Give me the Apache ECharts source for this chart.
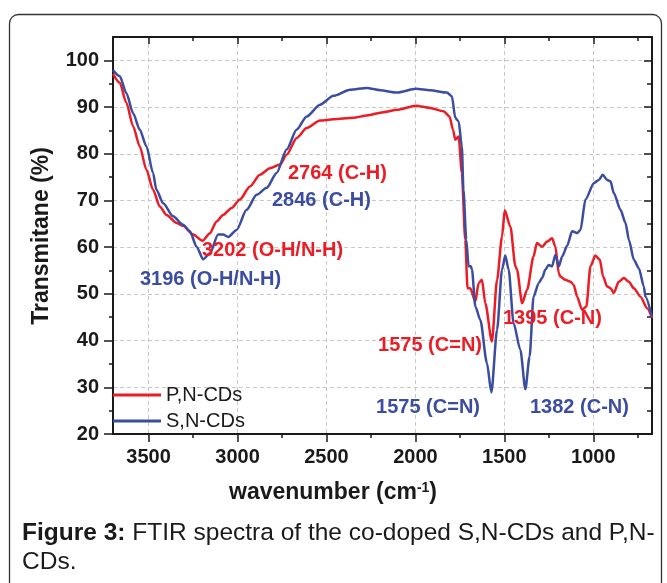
<!DOCTYPE html>
<html><head><meta charset="utf-8">
<script src="https://cdn.jsdelivr.net/npm/echarts@6/dist/echarts.min.js"></script>
<style>html,body{margin:0;padding:0;background:#fff}#c{width:667px;height:583px}</style>
</head><body><div id="c"></div>
<script>
// ---------- data ----------
const seriesNames = ['P,N-CDs', 'S,N-CDs'];
const xTicks = [3500, 3000, 2500, 2000, 1500, 1000];
const xMinorTicks = [3250, 2750, 2250, 1750, 1250, 750];
const yTicks = [20, 30, 40, 50, 60, 70, 80, 90, 100];
const yMinorTicks = [25, 35, 45, 55, 65, 75, 85, 95];

// P,N-CDs (red)
const wnPN = [3700,3662,3625,3587,3550,3512,3475,3437,3399,3343,3306,3250,3197,3155,3118,3081,3033,2987,2930,2874,2818,2761,2724,2667,2611,2536,2461,2349,2273,2180,2104,1997,1917,1842,1808,1789,1776,1757,1739,1720,1707,1692,1663,1645,1626,1607,1570,1541,1513,1498,1466,1438,1429,1400,1372,1336,1317,1288,1260,1232,1213,1194,1185,1157,1128,1110,1091,1063,1039,1016,988,963,945,922,903,885,857,828,800,772,735,697,670];
const tPN  = [97.1,95.2,90.9,85.9,81.6,76.6,72.3,68.7,66.9,65.2,64.6,62.7,61.4,63.0,65.5,66.9,68.4,70.2,73.0,75.5,76.9,77.7,79.8,83.4,85.5,87.1,87.4,87.7,88.2,88.9,89.4,90.3,89.8,89.1,88.0,85.2,83.0,83.7,75.9,61.6,51.2,51.2,48.4,52.3,53.0,48.0,39.8,53.0,62.3,67.9,64.4,55.9,55.2,48.0,50.9,58.0,60.9,60.1,61.2,61.9,60.1,54.4,53.7,53.0,52.6,51.9,49.4,46.6,47.3,55.9,58.2,57.3,53.7,51.6,51.2,50.2,52.6,53.4,52.6,51.2,49.4,46.9,44.8];

// S,N-CDs (blue)
const wnSN = [3700,3662,3625,3587,3550,3512,3475,3456,3418,3362,3306,3268,3230,3193,3155,3109,3081,3052,3005,2949,2893,2836,2780,2724,2667,2611,2536,2461,2367,2273,2198,2104,1997,1917,1823,1795,1776,1757,1739,1730,1714,1701,1688,1682,1663,1635,1598,1573,1541,1513,1495,1476,1448,1410,1382,1358,1336,1307,1288,1269,1251,1232,1213,1194,1175,1147,1119,1091,1072,1044,997,969,947,922,903,885,847,819,800,772,744,716,707,670];
const tSN  = [97.9,96.6,93.0,88.7,85.2,81.6,75.9,72.3,69.4,66.6,64.8,63.4,60.1,57.4,58.7,62.7,62.7,62.2,63.7,68.0,71.2,72.7,75.9,80.9,85.2,88.0,90.5,92.4,93.7,94.1,93.6,93.1,93.9,93.6,93.1,92.3,87.7,86.9,81.6,72.3,61.6,55.9,55.9,55.2,47.3,44.4,35.2,28.9,42.3,55.2,58.2,55.2,43.7,38.0,29.6,36.6,49.4,52.3,53.4,55.2,56.2,55.9,58.4,55.9,58.0,60.3,63.4,63.0,63.7,70.2,73.7,74.4,75.5,74.4,74.1,71.6,68.0,65.2,61.6,57.3,55.5,51.6,49.4,45.0];

const peakTexts = ['2764 (C-H)', '2846 (C-H)', '3202 (O-H/N-H)', '3196 (O-H/N-H)', '1575 (C=N)', '1395 (C-N)', '1575 (C=N)', '1382 (C-N)'];

// ---------- style ----------
const RED = '#ED1C24', BLUE = '#3B4DA0', INK = '#1a1a1a';
const FF = '"Liberation Sans", Arial, Helvetica, sans-serif';

const chart = echarts.init(document.getElementById('c'), null, {renderer: 'canvas'});

const G = {left: 113, top: 37, width: 539, height: 397};
const grids = [0,1,2,3].map(() => Object.assign({outerBoundsMode: 'none', containLabel: false}, G));

const lineStyleAxis = {color: INK, width: 2};
const tickLS = {color: INK, width: 1.5};
const plain = v => String(v);

function xAx(gi, opt) {
  return Object.assign({
    gridIndex: gi, type: 'value', min: 670, max: 3700, inverse: true,
    axisLine: {show: false, onZero: false},
    axisTick: {show: false}, axisLabel: {show: false}, splitLine: {show: false}
  }, opt);
}
function yAx(gi, opt) {
  return Object.assign({
    gridIndex: gi, type: 'value', min: 20, max: 105,
    axisLine: {show: false, onZero: false},
    axisTick: {show: false}, axisLabel: {show: false}, splitLine: {show: false}
  }, opt);
}

const option = {
  animation: false,
  backgroundColor: '#fff',
  grid: grids,
  xAxis: [
    xAx(0, {position: 'bottom',
      axisLine: {show: true, onZero: false, lineStyle: lineStyleAxis},
      axisTick: {show: true, customValues: xTicks, length: 8, lineStyle: tickLS},
      axisLabel: {show: true, customValues: xTicks, formatter: plain, margin: 13, fontSize: 20, fontWeight: 'bold', color: INK, fontFamily: FF},
      splitLine: {show: true, lineStyle: {color: '#c8c8c8', width: 1, type: [4, 3]}}}),
    xAx(1, {position: 'bottom',
      axisTick: {show: true, customValues: xMinorTicks, length: 4, lineStyle: tickLS}}),
    xAx(2, {position: 'top',
      axisLine: {show: true, onZero: false, lineStyle: lineStyleAxis},
      axisTick: {show: true, inside: true, customValues: xTicks, length: 7, lineStyle: tickLS}}),
    xAx(3, {position: 'top',
      axisTick: {show: true, inside: true, customValues: xMinorTicks, length: 4, lineStyle: tickLS}})
  ],
  yAxis: [
    yAx(0, {position: 'left',
      axisLine: {show: true, onZero: false, lineStyle: lineStyleAxis},
      axisTick: {show: true, customValues: yTicks, length: 9, lineStyle: tickLS},
      axisLabel: {show: true, customValues: yTicks, formatter: plain, margin: 14, fontSize: 20, fontWeight: 'bold', color: INK, fontFamily: FF},
      splitLine: {show: true, lineStyle: {color: '#c8c8c8', width: 1, type: [4, 3]}}}),
    yAx(1, {position: 'left',
      axisTick: {show: true, customValues: yMinorTicks, length: 4, lineStyle: tickLS}}),
    yAx(2, {position: 'right',
      axisLine: {show: true, onZero: false, lineStyle: lineStyleAxis},
      axisTick: {show: true, inside: true, customValues: yTicks, length: 8, lineStyle: tickLS}}),
    yAx(3, {position: 'right',
      axisTick: {show: true, inside: true, customValues: yMinorTicks, length: 5, lineStyle: tickLS}})
  ],
  legend: {
    orient: 'vertical', left: 113, top: 385, padding: 0,
    itemWidth: 48, itemHeight: 3, itemGap: 6, icon: 'rect',
    textStyle: {fontSize: 20, color: INK, fontFamily: FF},
    data: seriesNames
  },
  series: [
    {name: seriesNames[0], type: 'line', xAxisIndex: 0, yAxisIndex: 0,
     data: wnPN.map((w, i) => [w, tPN[i]]), showSymbol: false, smooth: 0.25, smoothMonotone: 'x',
     color: RED, lineStyle: {color: RED, width: 2.5}, z: 3},
    {name: seriesNames[1], type: 'line', xAxisIndex: 0, yAxisIndex: 0,
     data: wnSN.map((w, i) => [w, tSN[i]]), showSymbol: false, smooth: 0.25, smoothMonotone: 'x',
     color: BLUE, lineStyle: {color: BLUE, width: 2.5}, z: 4}
  ],
  graphic: [
    {type: 'rect', silent: true, z: -10, shape: {x: 9.5, y: 14.5, width: 652, height: 620, r: 9},
     style: {fill: 'none', stroke: '#333', lineWidth: 1.3}},
    {type: 'text', x: 42, y: 236, rotation: Math.PI / 2, silent: true,
     style: {text: 'Transmitane (%)', font: 'bold 23px ' + FF, fill: INK, align: 'center', verticalAlign: 'middle'}},
    {type: 'text', x: 333, y: 493, silent: true,
     style: {text: '{m|wavenumber (cm}{s|-1}{m|)}', align: 'center', verticalAlign: 'middle', fill: INK,
       rich: {m: {font: 'bold 23px ' + FF, fill: INK}, s: {font: 'bold 14px ' + FF, fill: INK, verticalAlign: 'top'}}}},
    // peak annotations
    {type: 'text', z: 20, x: 288, y: 173, silent: true, style: {text: peakTexts[0], font: 'bold 20px ' + FF, fill: RED, align: 'left', verticalAlign: 'middle'}},
    {type: 'text', z: 20, x: 272, y: 200, silent: true, style: {text: peakTexts[1], font: 'bold 20px ' + FF, fill: BLUE, align: 'left', verticalAlign: 'middle'}},
    {type: 'text', z: 20, x: 202, y: 250, silent: true, style: {text: peakTexts[2], font: 'bold 20px ' + FF, fill: RED, align: 'left', verticalAlign: 'middle'}},
    {type: 'text', z: 20, x: 140, y: 279.5, silent: true, style: {text: peakTexts[3], font: 'bold 20px ' + FF, fill: BLUE, align: 'left', verticalAlign: 'middle'}},
    {type: 'text', z: 20, x: 482, y: 345.5, silent: true, style: {text: peakTexts[4], font: 'bold 20px ' + FF, fill: RED, align: 'right', verticalAlign: 'middle'}},
    {type: 'text', z: 20, x: 503, y: 318, silent: true, style: {text: peakTexts[5], font: 'bold 20px ' + FF, fill: RED, align: 'left', verticalAlign: 'middle'}},
    {type: 'text', z: 20, x: 480, y: 407.5, silent: true, style: {text: peakTexts[6], font: 'bold 20px ' + FF, fill: BLUE, align: 'right', verticalAlign: 'middle'}},
    {type: 'text', z: 20, x: 530, y: 407.5, silent: true, style: {text: peakTexts[7], font: 'bold 20px ' + FF, fill: BLUE, align: 'left', verticalAlign: 'middle'}},
    // caption
    {type: 'text', x: 22, y: 533, silent: true,
     style: {text: '{b|Figure 3:} FTIR spectra of the co-doped S,N-CDs and P,N-', font: '24.5px ' + FF, fill: INK,
       align: 'left', verticalAlign: 'middle', rich: {b: {font: 'bold 24.5px ' + FF, fill: INK}}}},
    {type: 'text', x: 22, y: 562, silent: true,
     style: {text: 'CDs.', font: '24.5px ' + FF, fill: INK, align: 'left', verticalAlign: 'middle'}}
  ]
};
chart.setOption(option);
</script>
</body></html>
